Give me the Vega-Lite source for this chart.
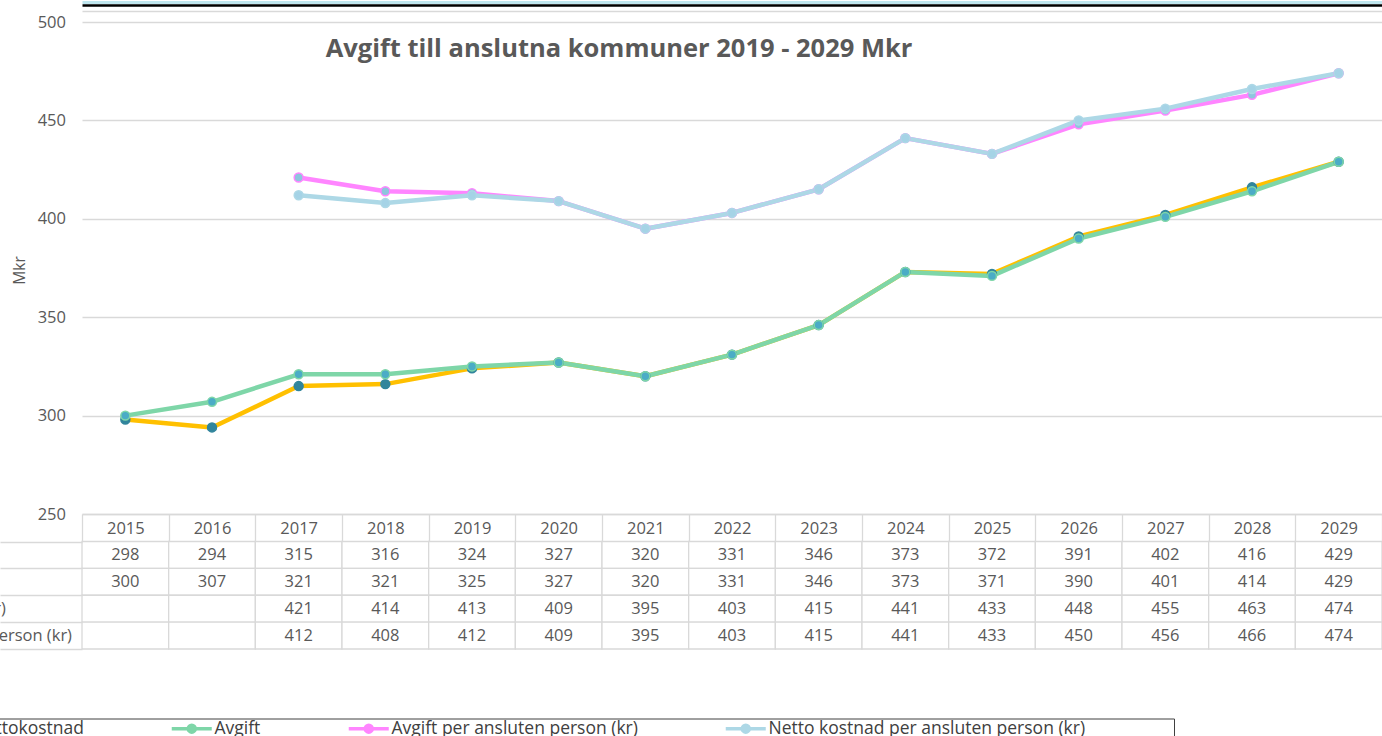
{
  "$schema": "https://vega.github.io/schema/vega-lite/v6.json",
  "width": 1300,
  "height": 492,
  "autosize": {"type": "none"},
  "padding": {"left": 82, "top": 22, "right": 0, "bottom": 222},
  "background": "white",
  "config": {"view": {"stroke": null}, "font": "Open Sans"},
  "title": {"text": "Avgift till anslutna kommuner 2019 - 2029 Mkr", "font": "Open Sans", "fontSize": 25.5, "fontWeight": "bold", "color": "#595959", "anchor": "middle", "dx": -113, "dy": 52},
  "data": {"values": [
    {"year": "2015", "series": "Nettokostnad", "value": 298},
    {"year": "2016", "series": "Nettokostnad", "value": 294},
    {"year": "2017", "series": "Nettokostnad", "value": 315},
    {"year": "2018", "series": "Nettokostnad", "value": 316},
    {"year": "2019", "series": "Nettokostnad", "value": 324},
    {"year": "2020", "series": "Nettokostnad", "value": 327},
    {"year": "2021", "series": "Nettokostnad", "value": 320},
    {"year": "2022", "series": "Nettokostnad", "value": 331},
    {"year": "2023", "series": "Nettokostnad", "value": 346},
    {"year": "2024", "series": "Nettokostnad", "value": 373},
    {"year": "2025", "series": "Nettokostnad", "value": 372},
    {"year": "2026", "series": "Nettokostnad", "value": 391},
    {"year": "2027", "series": "Nettokostnad", "value": 402},
    {"year": "2028", "series": "Nettokostnad", "value": 416},
    {"year": "2029", "series": "Nettokostnad", "value": 429},
    {"year": "2015", "series": "Avgift", "value": 300},
    {"year": "2016", "series": "Avgift", "value": 307},
    {"year": "2017", "series": "Avgift", "value": 321},
    {"year": "2018", "series": "Avgift", "value": 321},
    {"year": "2019", "series": "Avgift", "value": 325},
    {"year": "2020", "series": "Avgift", "value": 327},
    {"year": "2021", "series": "Avgift", "value": 320},
    {"year": "2022", "series": "Avgift", "value": 331},
    {"year": "2023", "series": "Avgift", "value": 346},
    {"year": "2024", "series": "Avgift", "value": 373},
    {"year": "2025", "series": "Avgift", "value": 371},
    {"year": "2026", "series": "Avgift", "value": 390},
    {"year": "2027", "series": "Avgift", "value": 401},
    {"year": "2028", "series": "Avgift", "value": 414},
    {"year": "2029", "series": "Avgift", "value": 429},
    {"year": "2015", "series": "Avgift per ansluten person (kr)", "value": null},
    {"year": "2016", "series": "Avgift per ansluten person (kr)", "value": null},
    {"year": "2017", "series": "Avgift per ansluten person (kr)", "value": 421},
    {"year": "2018", "series": "Avgift per ansluten person (kr)", "value": 414},
    {"year": "2019", "series": "Avgift per ansluten person (kr)", "value": 413},
    {"year": "2020", "series": "Avgift per ansluten person (kr)", "value": 409},
    {"year": "2021", "series": "Avgift per ansluten person (kr)", "value": 395},
    {"year": "2022", "series": "Avgift per ansluten person (kr)", "value": 403},
    {"year": "2023", "series": "Avgift per ansluten person (kr)", "value": 415},
    {"year": "2024", "series": "Avgift per ansluten person (kr)", "value": 441},
    {"year": "2025", "series": "Avgift per ansluten person (kr)", "value": 433},
    {"year": "2026", "series": "Avgift per ansluten person (kr)", "value": 448},
    {"year": "2027", "series": "Avgift per ansluten person (kr)", "value": 455},
    {"year": "2028", "series": "Avgift per ansluten person (kr)", "value": 463},
    {"year": "2029", "series": "Avgift per ansluten person (kr)", "value": 474},
    {"year": "2015", "series": "Netto kostnad per ansluten person (kr)", "value": null},
    {"year": "2016", "series": "Netto kostnad per ansluten person (kr)", "value": null},
    {"year": "2017", "series": "Netto kostnad per ansluten person (kr)", "value": 412},
    {"year": "2018", "series": "Netto kostnad per ansluten person (kr)", "value": 408},
    {"year": "2019", "series": "Netto kostnad per ansluten person (kr)", "value": 412},
    {"year": "2020", "series": "Netto kostnad per ansluten person (kr)", "value": 409},
    {"year": "2021", "series": "Netto kostnad per ansluten person (kr)", "value": 395},
    {"year": "2022", "series": "Netto kostnad per ansluten person (kr)", "value": 403},
    {"year": "2023", "series": "Netto kostnad per ansluten person (kr)", "value": 415},
    {"year": "2024", "series": "Netto kostnad per ansluten person (kr)", "value": 441},
    {"year": "2025", "series": "Netto kostnad per ansluten person (kr)", "value": 433},
    {"year": "2026", "series": "Netto kostnad per ansluten person (kr)", "value": 450},
    {"year": "2027", "series": "Netto kostnad per ansluten person (kr)", "value": 456},
    {"year": "2028", "series": "Netto kostnad per ansluten person (kr)", "value": 466},
    {"year": "2029", "series": "Netto kostnad per ansluten person (kr)", "value": 474}
  ]},
  "encoding": {
    "x": {"field": "year", "type": "ordinal",
      "scale": {"paddingInner": 0, "paddingOuter": 0},
      "axis": {"orient": "bottom", "title": null, "domainColor": "#d9d9d9", "domainWidth": 1.3, "tickColor": "#d9d9d9", "tickWidth": 1.3, "tickSize": 27.5, "tickBand": "extent", "labelPadding": -13.5, "labelBaseline": "middle", "labelAngle": 0, "labelFontSize": 16.5, "labelColor": "#595959", "labelFont": "Open Sans", "grid": false}}
  },
  "layer": [
    {
      "encoding": {
        "y": {"field": "series", "type": "nominal",
          "scale": {"domain": ["Nettokostnad", "Avgift", "Avgift per ansluten person (kr)", "Netto kostnad per ansluten person (kr)"], "range": [519.5, 627], "paddingInner": 0, "paddingOuter": 0},
          "axis": {"orient": "left", "title": null, "domain": false, "ticks": true, "tickBand": "extent", "tickSize": 82, "tickColor": "#d9d9d9", "tickWidth": 1.3, "labelAlign": "left", "labelPadding": 227, "labelLimit": 0, "labelFontSize": 16.5, "labelColor": "#595959", "labelFont": "Open Sans", "grid": false}}
      },
      "layer": [
        {"mark": {"type": "rect", "fill": "white", "stroke": "#d9d9d9", "strokeWidth": 1.3}},
        {"transform": [{"filter": "datum.value != null"}],
         "mark": {"type": "text", "fontSize": 16.5, "color": "#595959", "baseline": "middle", "font": "Open Sans"},
         "encoding": {"text": {"field": "value", "type": "quantitative", "format": "d"}}}
      ]
    },
    {
      "encoding": {
        "y": {"field": "value", "type": "quantitative",
          "scale": {"domain": [250, 511.2], "range": [492, -22], "nice": false, "zero": false},
          "axis": {"orient": "left", "values": [250, 300, 350, 400, 450, 500, 505.6, 508.9, 510.4], "labelExpr": "datum.value > 500 ? '' : datum.label", "title": "Mkr", "titleY": 248, "titleFont": "Open Sans", "titleFontSize": 15.5, "titleFontWeight": "normal", "titleColor": "#595959", "titlePadding": 10, "labelFontSize": 16.5, "labelColor": "#595959", "labelFont": "Open Sans", "labelPadding": 16.5, "ticks": false, "tickSize": 0, "domain": false, "grid": true,
            "gridColor": {"condition": [{"test": "datum.value > 510", "value": "#bfe6ee"}, {"test": "datum.value > 508", "value": "#000000"}], "value": "#d9d9d9"},
            "gridWidth": {"condition": [{"test": "datum.value > 510", "value": 3.2}, {"test": "datum.value > 508", "value": 2.5}], "value": 1.3},
            "labelFlush": false}}
      },
      "layer": [
        {"mark": {"type": "line", "strokeWidth": 4.5, "strokeJoin": "round", "strokeCap": "round"},
         "encoding": {"color": {"field": "series", "type": "nominal",
           "scale": {"domain": ["Nettokostnad", "Avgift", "Avgift per ansluten person (kr)", "Netto kostnad per ansluten person (kr)"], "range": ["#FFC000", "#7ED6A8", "#FF85FF", "#ADD8E6"]},
           "legend": {"orient": "none", "legendX": -142, "legendY": 696.5, "direction": "horizontal", "columns": 4, "title": "\u00a0", "titleOrient": "right", "titlePadding": 88, "padding": 1, "strokeColor": "#404040", "fillColor": "white", "columnPadding": 80, "labelFontSize": 17.5, "labelLimit": 0, "labelColor": "#404040", "labelFont": "Open Sans", "symbolType": "M-4,0H4M-0.7,0A0.7,0.7 0 1,1 0.7,0A0.7,0.7 0 1,1 -0.7,0Z", "symbolSize": 100, "symbolStrokeWidth": 3.5, "labelOffset": 14, "encode": {"symbols": {"update": {"stroke": {"scale": "color", "field": "value"}}}}}}}},
        {"mark": {"type": "point", "filled": true, "size": 80, "strokeWidth": 1.5, "opacity": 1},
         "encoding": {
           "fill": {"field": "series", "type": "nominal", "scale": {"domain": ["Nettokostnad", "Avgift", "Avgift per ansluten person (kr)", "Netto kostnad per ansluten person (kr)"], "range": ["#31859C", "#4BACC6", "#8EC5DD", "#A5D3E6"]}, "legend": null},
           "stroke": {"field": "series", "type": "nominal", "scale": {"domain": ["Nettokostnad", "Avgift", "Avgift per ansluten person (kr)", "Netto kostnad per ansluten person (kr)"], "range": ["#31859C", "#7ED6A8", "#FF85FF", "#ADD8E6"]}, "legend": null}}}
      ]
    }
  ],
  "resolve": {"scale": {"y": "independent"}, "axis": {"y": "independent"}}
}
